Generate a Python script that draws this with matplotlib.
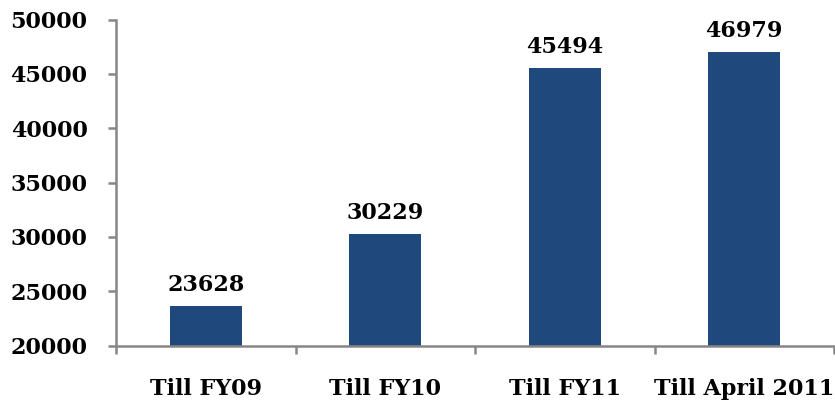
import matplotlib
matplotlib.use("Agg")
import matplotlib.pyplot as plt
import numpy as np

categories = ["Till FY09", "Till FY10", "Till FY11", "Till April 2011"]
values = [23628, 30229, 45494, 46979]
yticks = [20000, 25000, 30000, 35000, 40000, 45000, 50000]

plt.rcParams['font.family'] = ['DejaVu Serif']
plt.rcParams['font.weight'] = 'bold'

fig = plt.figure(figsize=(8.35, 4.03), dpi=100)
ax = fig.add_axes([116/835, 1-345.5/403, (834-116)/835, (345.5-19.5)/403])

x = np.arange(len(categories))
bars = ax.bar(x, values, width=0.40, color="#1F497D", zorder=2)

ax.set_xlim(-0.5, len(categories) - 0.5)
ax.set_ylim(yticks[0], yticks[-1])
ax.set_yticks(yticks)
ax.set_yticklabels([str(v) for v in yticks], fontsize=16, fontweight='bold')

ax.set_xticks(x)
ax.set_xticklabels(categories, fontsize=16, fontweight='bold')
ax.set_xticks(np.arange(len(categories) + 1) - 0.5, minor=True)
ax.tick_params(axis='x', which='major', length=0, pad=23.5)
ax.tick_params(axis='x', which='minor', length=5.5, width=1.8, color='#868686', direction='out')
ax.tick_params(axis='y', which='major', length=5.5, width=1.8, color='#868686', direction='out', pad=15)

for s in ['top', 'right']:
    ax.spines[s].set_visible(False)
for s in ['left', 'bottom']:
    ax.spines[s].set_color('#868686')
    ax.spines[s].set_linewidth(1.8)

for xi, v in zip(x, values):
    ax.annotate(str(v), (xi, v), xytext=(0, 11), textcoords='offset points',
                ha='center', va='baseline', fontsize=16, fontweight='bold')

fig.savefig("out.png", dpi=100)
